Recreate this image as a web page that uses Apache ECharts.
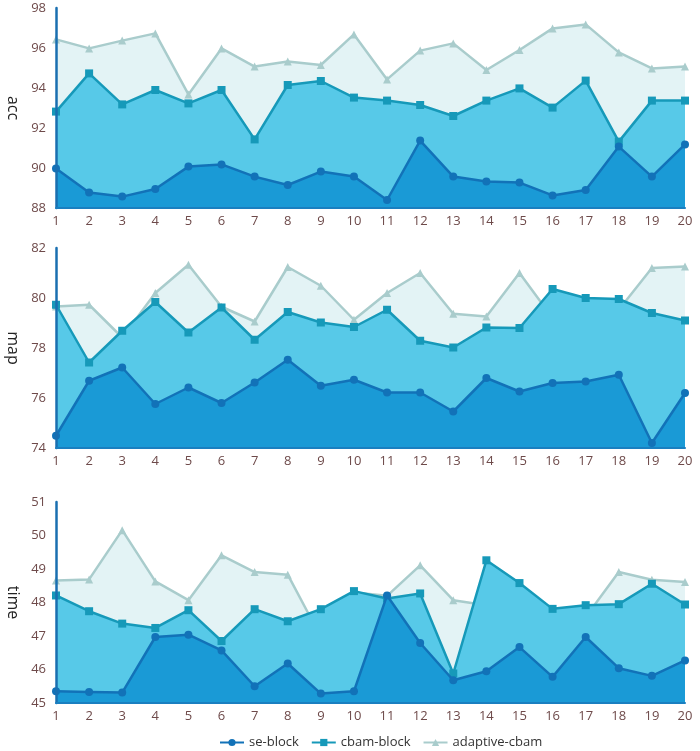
<!DOCTYPE html>
<html>
<head>
<meta charset="utf-8">
<script src="https://cdn.jsdelivr.net/npm/echarts@6/dist/echarts.min.js"></script>
<style>
html, body { margin: 0; padding: 0; background: #fff; }
#chart { width: 700px; height: 751px; }
</style>
</head>
<body>
<div id="chart"></div>
<script>
// x categories
const epochs = ["1","2","3","4","5","6","7","8","9","10","11","12","13","14","15","16","17","18","19","20"]

// acc panel
const accSe = [89.98, 88.77, 88.57, 88.95, 90.07, 90.18, 89.57, 89.15, 89.82, 89.57, 88.4, 91.37, 89.57, 89.32, 89.27, 88.63, 88.9, 91.07, 89.57, 91.18]
const accCbam = [92.82, 94.73, 93.18, 93.9, 93.23, 93.9, 91.43, 94.15, 94.35, 93.52, 93.37, 93.15, 92.6, 93.37, 93.98, 93.02, 94.37, 91.32, 93.37, 93.37]
const accAdaptive = [96.43, 95.98, 96.37, 96.73, 93.68, 95.98, 95.07, 95.32, 95.15, 96.68, 94.43, 95.87, 96.23, 94.9, 95.9, 96.98, 97.18, 95.78, 94.98, 95.07]

// map panel
const mapSe = [74.49, 76.69, 77.22, 75.76, 76.42, 75.8, 76.62, 77.53, 76.49, 76.73, 76.22, 76.22, 75.46, 76.8, 76.26, 76.6, 76.66, 76.93, 74.2, 76.2]
const mapCbam = [79.73, 77.42, 78.69, 79.84, 78.62, 79.62, 78.33, 79.44, 79.02, 78.84, 79.53, 78.29, 78.02, 78.82, 78.8, 80.36, 80.0, 79.96, 79.4, 79.1]
const mapAdaptive = [79.66, 79.73, 78.42, 80.2, 81.33, 79.65, 79.06, 81.24, 80.49, 79.13, 80.2, 81.0, 79.37, 79.26, 81.0, 79.2, 78.84, 79.53, 81.2, 81.26]

// time panel
const timeSe = [45.35, 45.33, 45.31, 46.97, 47.04, 46.57, 45.5, 46.18, 45.28, 45.35, 48.21, 46.79, 45.68, 45.95, 46.67, 45.78, 46.97, 46.04, 45.81, 46.27]
const timeCbam = [48.21, 47.74, 47.37, 47.24, 47.77, 46.85, 47.8, 47.44, 47.8, 48.34, 48.12, 48.27, 45.88, 49.26, 48.58, 47.81, 47.92, 47.95, 48.56, 47.94]
const timeAdaptive = [48.66, 48.69, 50.16, 48.63, 48.07, 49.41, 48.91, 48.83, 46.97, 48.3, 48.2, 49.11, 48.07, 47.92, 48.55, 47.54, 47.57, 48.91, 48.68, 48.61]

const names = ["se-block", "cbam-block", "adaptive-cbam"]

const styles = {
  "se-block": { line: "#1272b8", area: "#1a9ad6", symbol: "circle" },
  "cbam-block": { line: "#1699b9", area: "#57c9e8", symbol: "rect" },
  "adaptive-cbam": { line: "#a9cccc", area: "#e3f3f5", symbol: "triangle" }
}

const labelColor = "#6e4a4a"
const font = "'Open Sans', 'Noto Sans', sans-serif"

const panels = [
  { name: "acc", min: 88, max: 98, interval: 2, top: 8, height: 200, data: [accSe, accCbam, accAdaptive] },
  { name: "map", min: 74, max: 82, interval: 2, top: 248, height: 200, data: [mapSe, mapCbam, mapAdaptive] },
  { name: "time", min: 45, max: 51, interval: 1, top: 502, height: 201, data: [timeSe, timeCbam, timeAdaptive] }
]

const grid = []
const xAxis = []
const yAxis = []
const series = []

panels.forEach((p, i) => {
  grid.push({ left: 56, right: 15, top: p.top, height: p.height, outerBoundsMode: "none", containLabel: false })
  xAxis.push({
    type: "category",
    gridIndex: i,
    data: epochs,
    boundaryGap: false,
    zlevel: 1,
    axisLine: { lineStyle: { color: "#1a7fc0", width: 2 } },
    axisTick: { show: false },
    axisLabel: { color: labelColor, fontSize: 13, fontFamily: font, margin: 7 },
    splitLine: { show: false }
  })
  yAxis.push({
    type: "value",
    gridIndex: i,
    min: p.min,
    max: p.max,
    interval: p.interval,
    name: p.name,
    nameLocation: "middle",
    nameRotate: -90,
    nameGap: 35,
    zlevel: 1,
    nameTextStyle: { color: "#222", fontSize: 16, fontFamily: font },
    axisLine: { show: true, lineStyle: { color: "#1a6fb0", width: 2.5 } },
    axisTick: { show: false },
    axisLabel: { color: labelColor, fontSize: 13, fontFamily: font, margin: 10 },
    splitLine: { show: false }
  })
  // draw back to front: adaptive, cbam, se
  ;[2, 1, 0].forEach(k => {
    const n = names[k]
    const s = styles[n]
    series.push({
      name: n,
      type: "line",
      xAxisIndex: i,
      yAxisIndex: i,
      data: p.data[k],
      symbol: s.symbol,
      symbolSize: 8,
      showAllSymbol: true,
      lineStyle: { color: s.line, width: 2.5 },
      itemStyle: { color: s.line },
      areaStyle: { color: s.area, opacity: 1, origin: "start" },
      z: 2 + (2 - k)
    })
  })
})

const chart = echarts.init(document.getElementById("chart"))
chart.setOption({
  animation: false,
  backgroundColor: "#fff",
  legend: {
    data: names,
    top: 731,
    left: 214,
    itemWidth: 24,
    itemHeight: 9,
    itemGap: 12,
    textStyle: { color: "#333", fontSize: 13, fontFamily: font }
  },
  grid: grid,
  xAxis: xAxis,
  yAxis: yAxis,
  series: series
})
</script>
</body>
</html>
